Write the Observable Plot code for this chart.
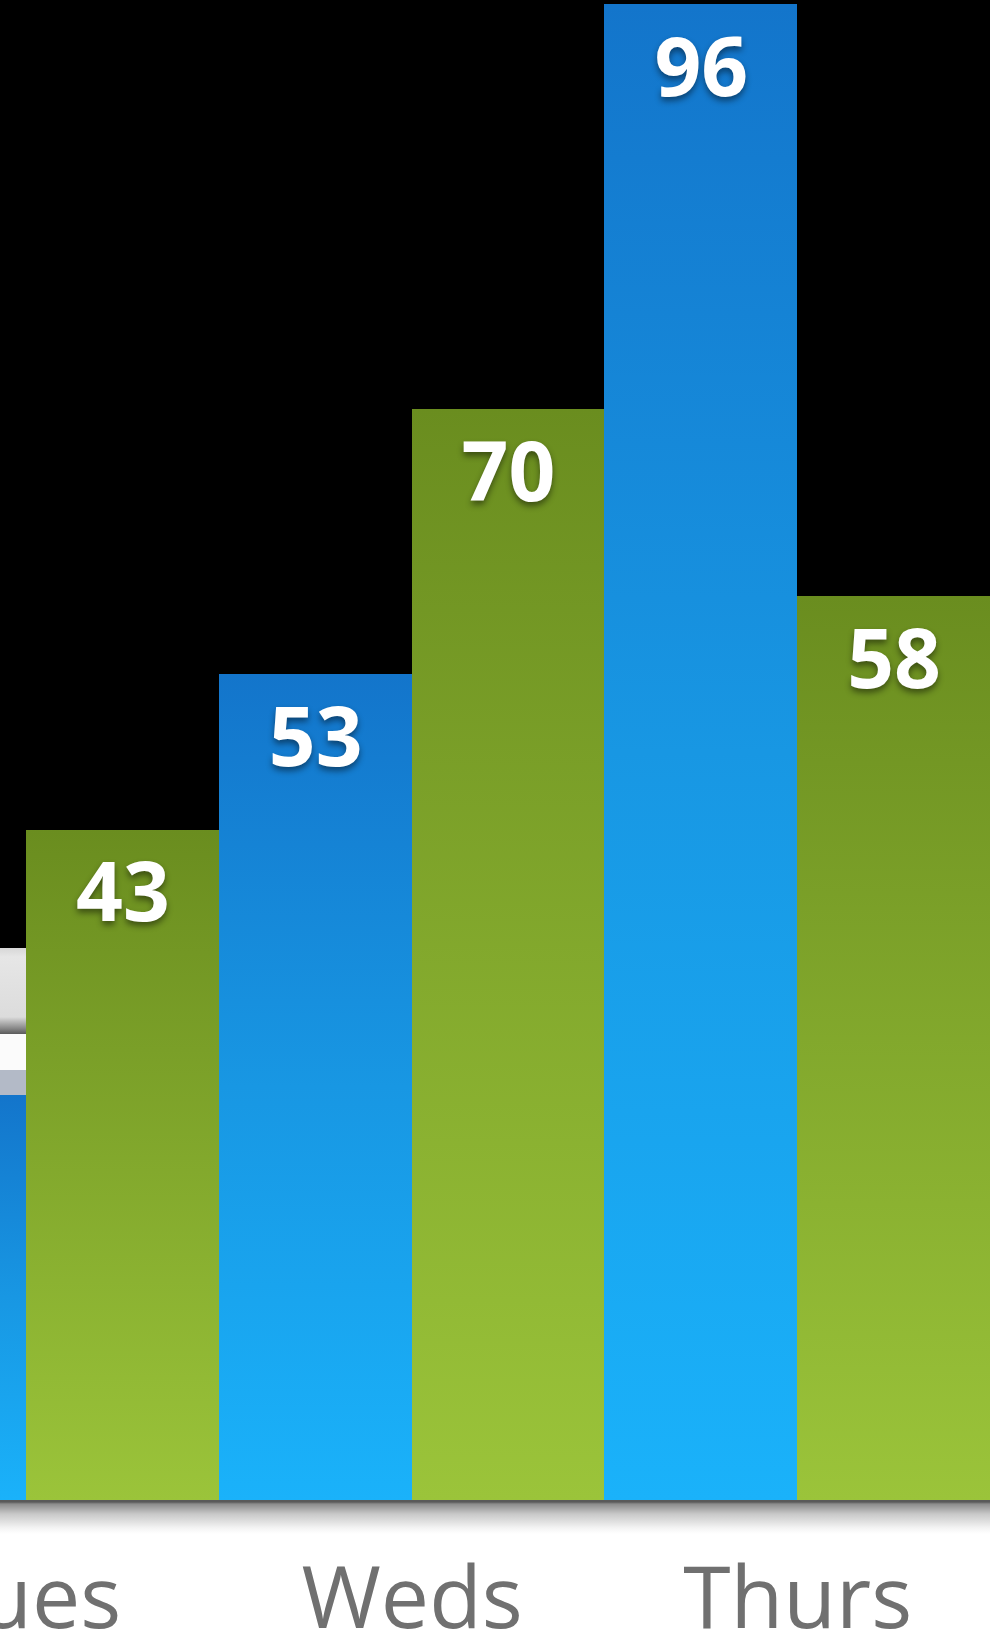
<!DOCTYPE html>
<html>
<head>
<meta charset="utf-8">
<script src="https://cdn.jsdelivr.net/npm/d3@7"></script>
<script src="https://cdn.jsdelivr.net/npm/@observablehq/plot@0.6"></script>
<style>
  html, body { margin: 0; padding: 0; background: #fff; overflow: hidden; }
  #chart svg { display: block; }
  g[fill="white"] { filter: drop-shadow(0px 4px 3px rgba(0,0,0,0.45)); }
</style>
</head>
<body>
<div id="chart"></div>
<script>
// ---- data ----
const days = ["Tues", "Weds", "Thurs"];
const blueValues = [26, 53, 96];
const greenValues = [43, 70, 58];
// partial overlay panel stacked above the Tues blue bar (value units)
const overlayLow = [26, 27.6, 29.9];
const overlayHigh = [27.6, 29.9, 35.4];
const overlayFill = ["#B3BAC7", "#FBFBFB", "url(#gGrey)"];

const rows = [];
days.forEach((d, i) => {
  rows.push({day: d, series: "blue", key: d + "-blue", value: blueValues[i]});
  rows.push({day: d, series: "green", key: d + "-green", value: greenValues[i]});
});
const keys = rows.map(r => r.key);
const overlay = overlayLow.map((v, i) => ({key: "Tues-blue", y1: v, y2: overlayHigh[i], fill: overlayFill[i]}));

const W = 990, H = 1641;
const bandW = (990 - 26) / 5;

const plot = Plot.plot({
  width: W,
  height: H,
  marginTop: 4,
  marginBottom: 141,
  marginLeft: 0,
  marginRight: 0,
  style: {
    background: "linear-gradient(to bottom, #000 0px, #000 1500px, #5a5a5a 1500px, #5a5a5a 1502px, #8c8c8c 1504px, #c8c8c8 1514px, #f4f4f4 1528px, #fff 1534px)",
    overflow: "hidden"
  },
  x: {type: "band", domain: keys, range: [26 - bandW, 990], padding: 0, round: false, axis: null},
  y: {domain: [0, 96], axis: null},
  marks: [
    Plot.barY(rows.filter(r => r.series === "blue"), {x: "key", y: "value", fill: "url(#gBlue)", inset: 0, shapeRendering: "crispEdges"}),
    Plot.barY(rows.filter(r => r.series === "green"), {x: "key", y: "value", fill: "url(#gGreen)", inset: 0, shapeRendering: "crispEdges"}),
    Plot.rectY(overlay, {x: "key", y1: "y1", y2: "y2", fill: d => d.fill, inset: 0, shapeRendering: "crispEdges"}),
    // value labels for the bars visible in the picture
    Plot.text(rows.filter(r => r.key !== "Tues-blue"), {
      x: "key", y: "value", text: d => String(d.value),
      fill: "white", fontSize: 82, fontWeight: 700,
      fontFamily: "'Open Sans', 'Noto Sans', sans-serif",
      lineAnchor: "bottom", dy: 91, textAnchor: "middle"
    }),
    Plot.text(rows.filter(r => r.series === "green"), {
      x: "key", text: "day", frameAnchor: "bottom",
      dx: -bandW / 2, dy: 127,
      fill: "#707070", fontSize: 86, fontWeight: 400,
      fontFamily: "'Open Sans', 'Noto Sans', sans-serif",
      lineAnchor: "bottom", textAnchor: "middle"
    })
  ]
});

// gradients used by the bars
const svg = d3.select(plot);
const defs = svg.insert("defs", ":first-child");
function grad(id, stops) {
  const g = defs.append("linearGradient").attr("id", id)
    .attr("x1", 0).attr("y1", 0).attr("x2", 0).attr("y2", 1);
  stops.forEach(([o, c]) => g.append("stop").attr("offset", o).attr("stop-color", c));
}
grad("gBlue", [[0, "#1375CB"], [0.5, "#1897E3"], [1, "#1AB2FA"]]);
grad("gGreen", [[0, "#6A8D1F"], [1, "#9BC43A"]]);
grad("gGrey", [[0, "#D8D8D8"], [0.1, "#E6E6E6"], [0.8, "#DCDCDC"], [0.93, "#8A8A8A"], [1, "#5a5a5a"]]);

document.getElementById("chart").appendChild(plot);
</script>
</body>
</html>
